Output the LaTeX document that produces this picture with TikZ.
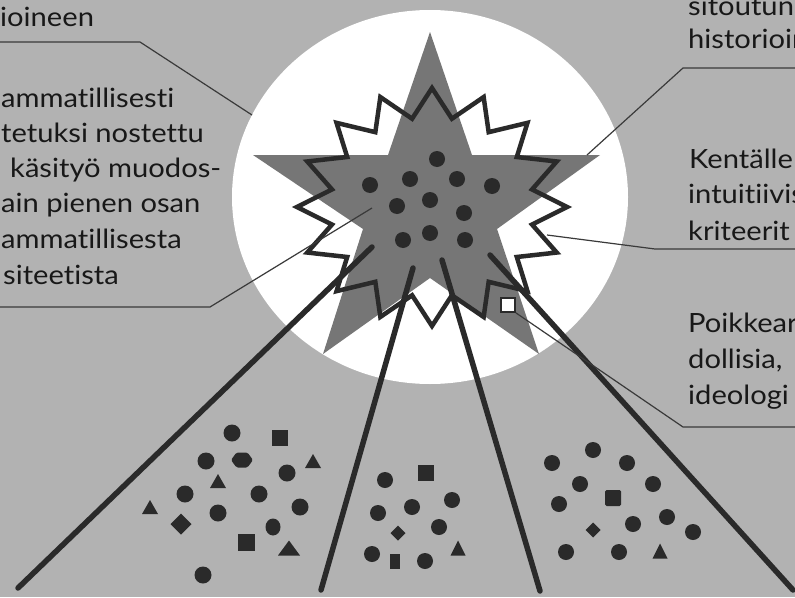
\documentclass[tikz,border=0pt]{standalone}
\usepackage{fontspec}
\setmainfont{Lato}[Ligatures=NoCommon, FakeStretch=1.1]
\usetikzlibrary{shapes.geometric}
\definecolor{bg}{RGB}{178,178,178}
\definecolor{stargray}{RGB}{118,118,118}
\definecolor{ink}{RGB}{42,42,42}
\definecolor{txt}{RGB}{24,24,24}
\definecolor{lead}{RGB}{58,58,58}
\tikzset{
  lbl/.style={anchor=base west, inner sep=0pt, text=txt, font=\fontsize{26.5}{30}\selectfont},
  ray/.style={draw=ink, line width=5.5pt, line cap=round},
  leader/.style={draw=lead, line width=1.2pt},
  zig/.style={draw=ink, line width=4.5pt, line join=miter},
}
\newcommand\dotat[3]{\fill[ink] (#1,#2) circle[radius=#3pt];}
\newcommand\triat[4]{\fill[ink] ({#1-#3},{#2+#4}) -- ({#1+#3},{#2+#4}) -- (#1,{#2-#4}) -- cycle;}
\newcommand\sqat[4]{\fill[ink] ({#1-#3},{#2-#4}) rectangle ({#1+#3},{#2+#4});}
\newcommand\diaat[3]{\fill[ink] ({#1-#3},#2) -- (#1,{#2-#3}) -- ({#1+#3},#2) -- (#1,{#2+#3}) -- cycle;}
\begin{document}
\begin{tikzpicture}[x=1pt,y=-1pt]
\useasboundingbox (0,0) rectangle (795,597);
\clip (0,0) rectangle (795,597);
\fill[bg] (0,0) rectangle (795,597);
% white disc
\fill[white] (430,197) ellipse [x radius=198pt, y radius=187pt];
% big grey star
\fill[stargray] (430,32) -- (472,155) -- (600,155) -- (497,229) -- (539,354) -- (430,278)
  -- (323,354) -- (363,229) -- (253,155) -- (388,155) -- cycle;
% zigzag star
\draw[zig] (432,88) \foreach \i [evaluate=\i as \rx using {mod(\i,2)==0?135:102},
   evaluate=\i as \ry using {mod(\i,2)==0?119:90}] in {1,...,31}
   { -- ({432+\rx*cos(90-11.25*\i)},{207-\ry*sin(90-11.25*\i)}) } -- cycle;
% dots in star
\foreach \x/\y in {437/159,410/179,457/179,370/185,492/186,397/206,430/200,464/213,403/240,430/233,465/240}
  {\fill[ink] (\x,\y) circle[radius=8pt];}
% rays
\coordinate (r1s) at (372,247); \coordinate (r1e) at (18,588);
\coordinate (r2s) at (413,268); \coordinate (r2e) at (321,590);
\coordinate (r3s) at (442,260); \coordinate (r3e) at (540,591);
\coordinate (r4s) at (490,255); \coordinate (r4e) at (793,590);
\draw[ray] (r1s) -- (r1e);
\draw[ray] (r2s) -- (r2e);
\draw[ray] (r3s) -- (r3e);
\draw[ray] (r4s) -- (r4e);
% white square
\node[draw=ink, fill=white, line width=1.6pt, minimum size=14pt, inner sep=0pt] (sq) at (508,305) {};
% leaders
\coordinate (l1a) at (0,42); \coordinate (l1b) at (140,42); \coordinate (l1c) at (252,115);
\coordinate (l2a) at (0,307); \coordinate (l2b) at (210,307); \coordinate (l2c) at (372,208);
\coordinate (l3a) at (795,68); \coordinate (l3b) at (683,68); \coordinate (l3c) at (587,155);
\coordinate (l4a) at (795,249); \coordinate (l4b) at (655,249); \coordinate (l4c) at (547,235);
\coordinate (l5a) at (795,427); \coordinate (l5b) at (683,427);
\draw[leader] (l1a) -- (l1b) -- (l1c);
\draw[leader] (l2a) -- (l2b) -- (l2c);
\draw[leader] (l3a) -- (l3b) -- (l3c);
\draw[leader] (l4a) -- (l4b) -- (l4c);
\draw[leader] (l5a) -- (l5b) -- (sq.south east);
% left texts
\node[lbl] (t1) at (0,26) {ioineen};
\node[lbl] (t2) at (1,107) {ammatillisesti};
\node[lbl] (t3) at (1,142) {tetuksi nostettu};
\node[lbl] (t4) at (10,177) {käsityö muodos-};
\node[lbl] (t5) at (1,212) {ain pienen osan};
\node[lbl] (t6) at (1,248) {ammatillisesta};
\node[lbl] (t7) at (3,284) {siteetista};
% right texts
\node[lbl] (u1) at (688,15) {sitoutune};
\node[lbl] (u2) at (688,48) {historioin};
\node[lbl] (u3) at (689,168) {Kentälle};
\node[lbl] (u4) at (688,203) {intuitiivis};
\node[lbl] (u5) at (688,240) {kriteerit};
\node[lbl] (u6) at (688,332) {Poikkear};
\node[lbl] (u7) at (688,368) {dollisia,};
\node[lbl] (u8) at (688,404) {ideologi};
% group 1
\dotat{232}{433}{8.5}
\sqat{280}{438}{8}{8}
\dotat{206}{461}{8.5}
\fill[ink, rounded corners=1.5pt] (231,460) -- (236.5,452.5) -- (247.5,452.5) -- (253,460) -- (247.5,467.5) -- (236.5,467.5) -- cycle;
\triat{313}{461}{8}{7}
\dotat{287}{473}{8.5}
\triat{218}{481}{8}{7}
\dotat{185}{494}{8.5}
\dotat{259}{494}{8.5}
\triat{150}{507}{8}{7}
\dotat{300}{507}{8.5}
\dotat{218}{513}{8.5}
\diaat{181}{524}{10.5}
\fill[ink] (273,527) ellipse [x radius=7.5pt, y radius=8.5pt];
\sqat{246}{542}{8.5}{8.5}
\triat{289}{548}{11}{7.5}
\dotat{203}{575}{8.5}
% group 2
\sqat{426}{473}{8}{8}
\dotat{385}{480}{8}
\dotat{452}{500}{8}
\dotat{412}{507}{8}
\dotat{378}{513}{8}
\dotat{439}{527}{8}
\diaat{398}{533}{7.5}
\triat{458}{548}{7.5}{7.5}
\dotat{372}{554}{8}
\sqat{395}{561}{5}{7.5}
\dotat{425}{561}{8}
% group 3
\dotat{593}{450}{8}
\dotat{552}{463}{8}
\dotat{627}{463}{8}
\dotat{580}{484}{8}
\dotat{653}{484}{8}
\fill[ink, rounded corners=1.5pt] (605,490) rectangle (621,506);
\dotat{559}{504}{8}
\dotat{667}{517}{8}
\dotat{633}{524}{8}
\diaat{593}{530}{7.5}
\dotat{693}{532}{8}
\dotat{566}{552}{8}
\dotat{619}{552}{8}
\triat{660}{551}{7.5}{7.5}
\end{tikzpicture}
\end{document}
